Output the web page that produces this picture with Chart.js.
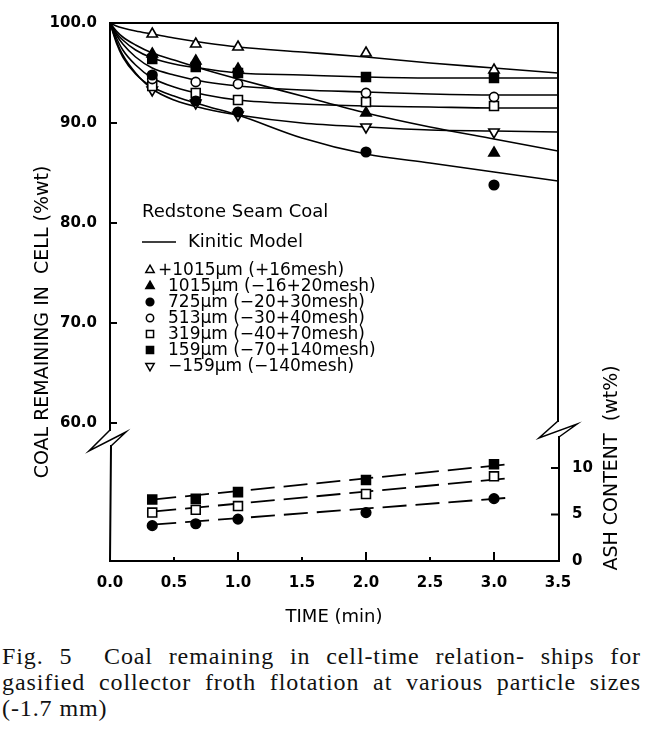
<!DOCTYPE html>
<html>
<head>
<meta charset="utf-8">
<script src="https://cdn.jsdelivr.net/npm/chart.js@4.4.0/dist/chart.umd.min.js"></script>
<style>
body { margin: 0; background: #fff; width: 647px; height: 743px; overflow: hidden; }
#wrap { position: relative; width: 647px; height: 640px; }
#caption { font-family: "Liberation Serif", "Times New Roman", serif; font-size: 24px; letter-spacing: 0.9px; line-height: 26px; color: #111; padding: 0 6px 0 2px; margin-top: 3px; }
.j { text-align: justify; text-align-last: justify; }
</style>
</head>
<body>
<div id="wrap"><canvas id="grafico" width="647" height="640"></canvas></div>
<div id="caption">
  <div class="j">Fig. 5&nbsp; Coal remaining in cell-time relation- ships for</div>
  <div class="j">gasified collector froth flotation at various particle sizes</div>
  <div>(-1.7 mm)</div>
</div>
<script>
// tiempos de muestreo (min)
var tiempos = [0.33, 0.67, 1.0, 2.0, 3.0];
// tiempos usados para leer las curvas del modelo
var tModelo = [0, 0.05, 0.1, 0.2, 0.33, 0.5, 0.75, 1.0, 1.5, 2.0, 2.5, 3.0, 3.5];

var etiquetas = [
    '+1015\u00b5m (+16mesh)',
    '1015\u00b5m (\u221216+20mesh)',
    '725\u00b5m (\u221220+30mesh)',
    '513\u00b5m (\u221230+40mesh)',
    '319\u00b5m (\u221240+70mesh)',
    '159\u00b5m (\u221270+140mesh)',
    '\u2212159\u00b5m (\u2212140mesh)'
];

// carbón remanente en celda (%wt), puntos medidos
var coal1015mas = [98.9, 97.9, 97.6, 97.0, 95.3];
var coal1015 = [96.9, 96.2, 95.4, 91.0, 87.0];
var coal725 = [94.8, 92.2, 91.1, 87.1, 83.8];
var coal513 = [94.4, 94.1, 93.9, 93.0, 92.6];
var coal319 = [93.7, 93.0, 92.3, 92.1, 91.7];
var coal159 = [96.4, 95.6, 95.0, 94.6, 94.5];
var coal159menos = [93.3, 92.0, 90.8, 89.6, 89.1];

// curvas del modelo cinético
var mod1015mas = [100, 99.7, 99.5, 99.2, 98.9, 98.5, 98.0, 97.6, 97.1, 96.6, 96.0, 95.5, 95.0];
var mod1015 = [100, 99.2, 98.6, 97.8, 97.0, 96.3, 95.3, 94.4, 92.7, 91.0, 89.6, 88.4, 87.2];
var mod725 = [100, 98.0, 96.6, 94.9, 93.6, 92.7, 91.7, 90.8, 88.5, 86.9, 86.0, 85.1, 84.2];
var mod513 = [100, 98.8, 97.9, 96.6, 95.5, 94.8, 94.1, 93.7, 93.3, 93.1, 92.9, 92.8, 92.8];
var mod319 = [100, 98.5, 97.3, 95.8, 94.5, 93.6, 92.8, 92.3, 91.9, 91.7, 91.6, 91.5, 91.5];
var mod159 = [100, 99.0, 98.3, 97.3, 96.5, 95.9, 95.4, 95.0, 94.8, 94.6, 94.5, 94.5, 94.5];
var mod159menos = [100, 98.2, 96.8, 95.0, 93.4, 92.3, 91.4, 90.8, 90.0, 89.6, 89.3, 89.2, 89.1];

// contenido de cenizas (wt%)
var ash159 = [6.6, 6.7, 7.4, 8.7, 10.4];
var ash319 = [5.2, 5.5, 5.9, 7.2, 9.1];
var ash725 = [3.8, 4.0, 4.5, 5.2, 6.7];
var tAjuste = [0.33, 3.12];
var ajuste159 = [6.6, 10.4];
var ajuste319 = [5.3, 8.9];
var ajuste725 = [3.9, 6.8];

var ticksIzq = [60, 70, 80, 90, 100];
var ticksDer = [0, 5, 10];

function pts(xs, ys) {
    return xs.map(function (x, i) { return { x: x, y: ys[i] }; });
}

var series = [
    { datos: coal1015mas, modelo: mod1015mas, estilo: 'triangle', lleno: false, rot: 0, r: 6 },
    { datos: coal1015, modelo: mod1015, estilo: 'triangle', lleno: true, rot: 0, r: 6 },
    { datos: coal725, modelo: mod725, estilo: 'circle', lleno: true, rot: 0, r: 4.8 },
    { datos: coal513, modelo: mod513, estilo: 'circle', lleno: false, rot: 0, r: 4.6 },
    { datos: coal319, modelo: mod319, estilo: 'rect', lleno: false, rot: 0, r: 6.3 },
    { datos: coal159, modelo: mod159, estilo: 'rect', lleno: true, rot: 0, r: 6.3 },
    { datos: coal159menos, modelo: mod159menos, estilo: 'triangle', lleno: false, rot: 180, r: 6 }
];

var datasets = [];
series.forEach(function (s, i) {
    datasets.push({
        label: etiquetas[i],
        data: pts(tiempos, s.datos),
        yAxisID: 'y',
        showLine: false,
        pointStyle: s.estilo,
        rotation: s.rot,
        pointRadius: s.r,
        pointBorderWidth: 1.6,
        pointBorderColor: '#000',
        pointBackgroundColor: s.lleno ? '#000' : '#fff',
        order: 0
    });
    datasets.push({
        label: 'modelo ' + etiquetas[i],
        data: pts(tModelo, s.modelo),
        yAxisID: 'y',
        showLine: true,
        borderColor: '#000',
        borderWidth: 1.6,
        pointRadius: 0,
        cubicInterpolationMode: 'monotone',
        order: 1
    });
});

var cenizas = [
    { datos: ash159, ajuste: ajuste159, estilo: 'rect', lleno: true, r: 6.3 },
    { datos: ash319, ajuste: ajuste319, estilo: 'rect', lleno: false, r: 6.3 },
    { datos: ash725, ajuste: ajuste725, estilo: 'circle', lleno: true, r: 4.8 }
];
cenizas.forEach(function (c) {
    datasets.push({
        data: pts(tiempos, c.datos),
        yAxisID: 'y2',
        showLine: false,
        pointStyle: c.estilo,
        pointRadius: c.r,
        pointBorderWidth: 1.6,
        pointBorderColor: '#000',
        pointBackgroundColor: c.lleno ? '#000' : '#fff',
        order: 0
    });
    datasets.push({
        data: pts(tAjuste, c.ajuste),
        yAxisID: 'y2',
        showLine: true,
        borderColor: '#000',
        borderWidth: 1.8,
        borderDash: [24, 9],
        pointRadius: 0,
        order: 1
    });
});

// marco, cortes de eje y marcas hacia adentro
var marco = {
    id: 'marco',
    afterDraw: function (chart) {
        var ctx = chart.ctx, ca = chart.chartArea;
        var sx = chart.scales.x, sy = chart.scales.y, sy2 = chart.scales.y2;
        ctx.save();
        ctx.strokeStyle = '#000';
        ctx.lineWidth = 2;
        ctx.lineCap = 'square';
        ctx.beginPath();
        ctx.moveTo(ca.left, ca.top); ctx.lineTo(ca.right, ca.top);
        ctx.moveTo(ca.left, ca.bottom); ctx.lineTo(ca.right, ca.bottom);
        // eje izquierdo con corte
        ctx.moveTo(ca.left, ca.top); ctx.lineTo(ca.left, 430);
        ctx.moveTo(ca.left + 1, 446); ctx.lineTo(ca.left, ca.bottom);
        // eje derecho con corte
        ctx.moveTo(ca.right, ca.top); ctx.lineTo(ca.right, 421);
        ctx.moveTo(ca.right + 1, 437); ctx.lineTo(ca.right + 1, ca.bottom);
        ctx.stroke();

        ctx.lineWidth = 1.5;
        ctx.lineCap = 'butt';
        ctx.beginPath();
        ctx.moveTo(ca.left, 430); ctx.lineTo(ca.left - 21, 451); ctx.lineTo(ca.left + 16, 432); ctx.lineTo(ca.left + 1, 446);
        ctx.moveTo(ca.right, 421); ctx.lineTo(ca.right - 19, 438); ctx.lineTo(ca.right + 19, 424); ctx.lineTo(ca.right + 1, 437);
        ctx.stroke();

        // marcas
        ctx.lineWidth = 2;
        ctx.beginPath();
        [60, 70, 80, 90].forEach(function (v) {
            var y = sy.getPixelForValue(v);
            ctx.moveTo(ca.left, y); ctx.lineTo(ca.left + 7, y);
        });
        [5, 10].forEach(function (v) {
            var y = sy2.getPixelForValue(v);
            ctx.moveTo(ca.right, y); ctx.lineTo(ca.right - 7, y);
        });
        [0.5, 1, 1.5, 2, 2.5, 3].forEach(function (v) {
            var x = sx.getPixelForValue(v);
            var largo = (v % 1 === 0) ? 9 : 4;
            ctx.moveTo(x, ca.bottom); ctx.lineTo(x, ca.bottom - largo);
        });
        ctx.stroke();

        // títulos de ejes
        ctx.fillStyle = '#000';
        ctx.textAlign = 'center';
        ctx.textBaseline = 'middle';
        ctx.font = '18px "DejaVu Sans"';
        ctx.fillText('TIME (min)', (ca.left + ca.right) / 2, 617);
        ctx.save();
        ctx.translate(43, 322);
        ctx.rotate(-Math.PI / 2);
        ctx.font = '19px "DejaVu Sans"';
        ctx.fillText('COAL REMAINING IN  CELL (%wt)', 0, 0);
        ctx.restore();
        ctx.save();
        ctx.translate(612, 468);
        ctx.rotate(-Math.PI / 2);
        ctx.font = '19px "DejaVu Sans"';
        ctx.fillText('ASH CONTENT  (wt%)', 0, 0);
        ctx.restore();
        ctx.restore();
    }
};

var leyenda = {
    id: 'leyenda',
    afterDraw: function (chart) {
        var ctx = chart.ctx;
        ctx.save();
        ctx.fillStyle = '#000';
        ctx.strokeStyle = '#000';
        ctx.textAlign = 'left';
        ctx.textBaseline = 'middle';
        ctx.font = '18px "DejaVu Sans"';
        ctx.fillText('Redstone Seam Coal', 142, 212);
        ctx.lineWidth = 1.5;
        ctx.beginPath(); ctx.moveTo(142, 242); ctx.lineTo(176, 242); ctx.stroke();
        ctx.fillText('Kinitic Model', 188, 242);
        ctx.font = '17px "DejaVu Sans"';
        series.forEach(function (s, i) {
            var y = 270 + i * 16;
            ctx.fillStyle = s.lleno ? '#000' : '#fff';
            ctx.strokeStyle = '#000';
            ctx.lineWidth = 1.5;
            Chart.helpers.drawPoint(ctx, { pointStyle: s.estilo, rotation: s.rot, radius: s.r * 0.8, borderWidth: 1.5 }, 150, y);
            ctx.fillStyle = '#000';
            ctx.fillText(etiquetas[i], i === 0 ? 158 : 168, y + 1);
        });
        ctx.restore();
    }
};

Chart.defaults.font.family = '"DejaVu Sans", "Liberation Sans", sans-serif';
Chart.defaults.color = '#000';

var ctx1 = document.getElementById('grafico').getContext('2d');
window.miGrafico = new Chart(ctx1, {
    type: 'scatter',
    data: { datasets: datasets },
    plugins: [marco, leyenda],
    options: {
        responsive: false,
        animation: false,
        layout: { padding: { top: 12, left: 0, right: 0, bottom: 0 } },
        plugins: { legend: { display: false }, tooltip: { enabled: false } },
        scales: {
            x: {
                type: 'linear', min: 0, max: 3.5,
                grid: { display: false, drawTicks: false },
                border: { display: false },
                ticks: { stepSize: 0.5, padding: 13, font: { size: 15, weight: 'bold' },
                    callback: function (v) { return v.toFixed(1); } },
                afterFit: function (s) { s.height = 79; }
            },
            y: {
                type: 'linear', position: 'left', min: 46.2, max: 100,
                grid: { display: false, drawTicks: false },
                border: { display: false },
                afterBuildTicks: function (s) { s.ticks = ticksIzq.map(function (v) { return { value: v }; }); },
                ticks: { padding: 13, font: { size: 15, weight: 'bold' },
                    callback: function (v) { return v.toFixed(1); } },
                afterFit: function (s) { s.width = 110; }
            },
            y2: {
                type: 'linear', position: 'right', min: 0, max: 57.8,
                grid: { display: false, drawTicks: false },
                border: { display: false },
                afterBuildTicks: function (s) { s.ticks = ticksDer.map(function (v) { return { value: v }; }); },
                ticks: { padding: 14, font: { size: 15, weight: 'bold' } },
                afterFit: function (s) { s.width = 89; }
            }
        }
    }
});
</script>
</body>
</html>
